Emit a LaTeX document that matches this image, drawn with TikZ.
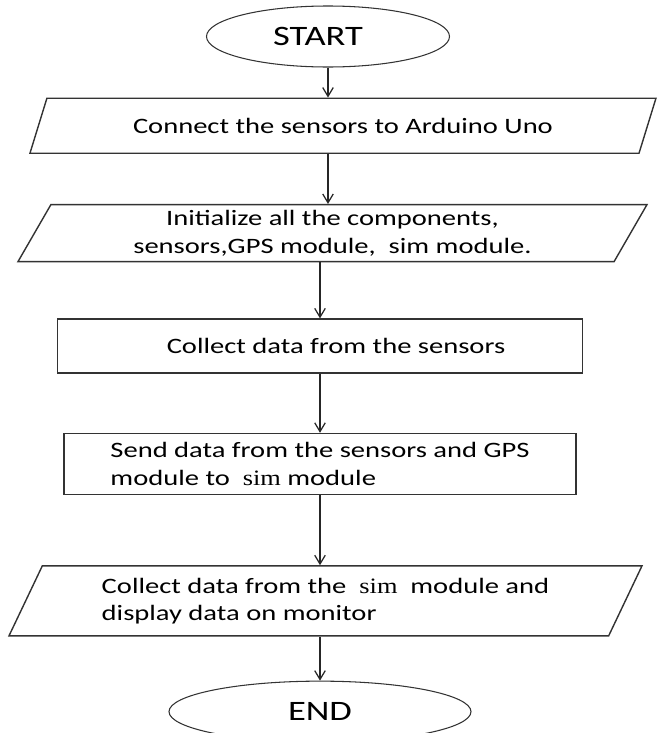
\documentclass[tikz,border=0pt]{standalone}
\usepackage{fontspec}
\setmainfont{Carlito}[FakeStretch=1.3]
\newfontfamily\simserif{Liberation Serif}[FakeStretch=1.2]
\usetikzlibrary{positioning,arrows.meta,shapes.geometric}

\newcommand{\simw}{{\simserif sim}}

\begin{document}
\begin{tikzpicture}[
    node distance=0.6cm,
    terminal/.style={ellipse, draw=black!80, line width=0.6pt, minimum width=4.86cm, minimum height=1.22cm, inner sep=0pt, font=\fontsize{16}{19}\selectfont},
    io/.style={trapezium, trapezium left angle=60, trapezium right angle=120, trapezium stretches body, draw=black!80, line width=0.8pt, minimum height=1.1cm, align=center, font=\fontsize{12.5}{15.5}\selectfont},
    process/.style={rectangle, draw=black!80, line width=0.8pt, minimum height=1.08cm, align=center, font=\fontsize{12.5}{15.5}\selectfont},
    arrow/.style={-{Straight Barb[length=5pt,width=6pt]}, line width=0.7pt, black!85},
]
    \useasboundingbox (0,0) rectangle (13.14,-14.66);

    % Main flow
    \node[terminal] (start) at (6.56,-0.73) {START\hspace*{0.4cm}};
    \node[io, trapezium left angle=58, trapezium right angle=122, minimum width=12.52cm, below=0.6cm of start, xshift=0.3cm] (connect) {Connect the sensors to Arduino Uno};
    \node[io, minimum width=12.58cm, below=1.0cm of connect, xshift=-0.21cm] (init) {Initialize all the components,\\ sensors,GPS module,~ sim module.};
    \node[process, minimum width=10.5cm, below=1.12cm of init, xshift=-0.25cm] (collect) {\hspace*{0.64cm}Collect data from the sensors};
    \node[process, minimum width=10.24cm, minimum height=1.22cm, align=left, below=1.18cm of collect] (send) {Send data from the sensors and GPS\\ module to~ \simw{} module};
    \node[io, minimum width=12.66cm, minimum height=1.4cm, align=left, below=1.4cm of send, xshift=0.11cm] (display) {Collect data from the~ \simw{}~ module and\\ display data on monitor};
    \node[terminal, minimum width=6.04cm, below=0.88cm of display, xshift=-0.11cm] (finish) {END};

    % Arrows
    \draw[arrow] (start) -- (start |- connect.north);
    \draw[arrow] (connect.south -| start) -- (init.north -| start);
    \draw[arrow] (init.south -| collect) -- (collect);
    \draw[arrow] (collect) -- (send);
    \draw[arrow] (send) -- (send |- display.north);
    \draw[arrow] (display.south -| finish) -- (finish);
\end{tikzpicture}
\end{document}
